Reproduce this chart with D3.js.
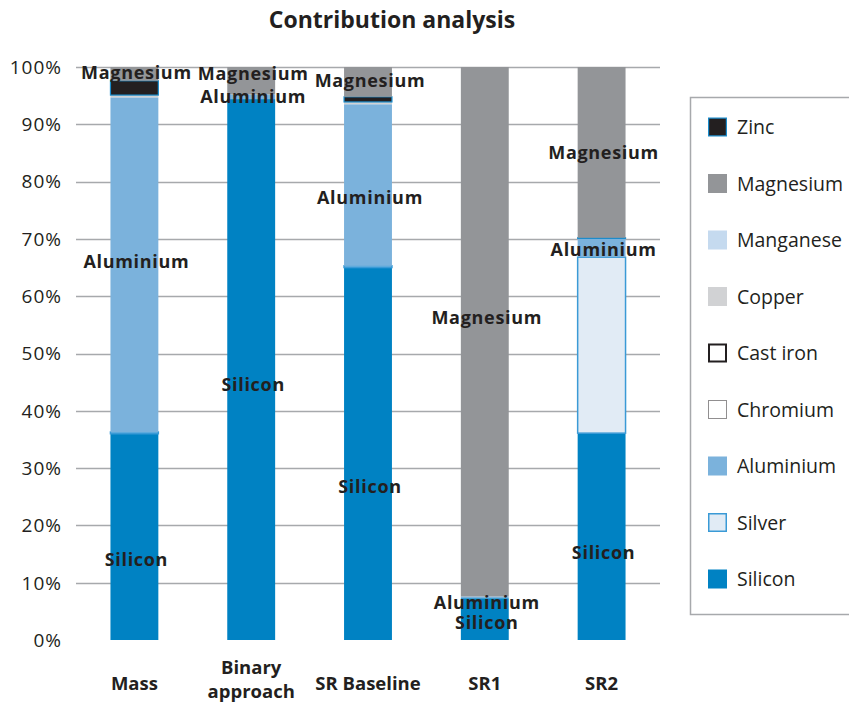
<!DOCTYPE html>
<html>
<head>
<meta charset="utf-8">
<script src="https://cdn.jsdelivr.net/npm/d3@7"></script>
<style>
  html, body { margin: 0; padding: 0; background: #fff; }
  svg { display: block; }
  text { font-family: "Open Sans", "Noto Sans", sans-serif; fill: #231f20; }
</style>
</head>
<body>
<svg id="chart" width="849" height="702"></svg>
<script>
// ---- Data ----
const categories = ["Mass", "Binary approach", "SR Baseline", "SR1", "SR2"];
const seriesNames = ["Silicon", "Silver", "Aluminium", "Chromium", "Cast iron", "Copper", "Manganese", "Zinc", "Magnesium"];
const silicon   = [36.0, 94.4, 65.0, 7.3, 36.1];
const silver    = [0.3, 0.0, 0.3, 0.0, 30.7];
const aluminium = [58.4, 0.8, 28.2, 0.3, 3.3];
const chromium  = [0, 0, 0, 0, 0];
const castIron  = [0, 0, 0, 0, 0];
const copper    = [0.4, 0.0, 0.4, 0.0, 0.0];
const manganese = [0, 0, 0, 0, 0];
const zinc      = [2.5, 0.0, 0.9, 0.0, 0.1];
const magnesium = [2.4, 4.8, 5.2, 92.4, 29.8];
const legendOrder = ["Zinc", "Magnesium", "Manganese", "Copper", "Cast iron", "Chromium", "Aluminium", "Silver", "Silicon"];
const yTicks = [0, 10, 20, 30, 40, 50, 60, 70, 80, 90, 100];
// data labels: category, text, position (percent)
const labelCats  = ["Mass","Mass","Mass","Binary approach","Binary approach","Binary approach","SR Baseline","SR Baseline","SR Baseline","SR1","SR1","SR1","SR2","SR2","SR2"];
const labelTexts = ["Magnesium","Aluminium","Silicon","Magnesium","Aluminium","Silicon","Magnesium","Aluminium","Silicon","Magnesium","Aluminium","Silicon","Magnesium","Aluminium","Silicon"];
const labelPos   = [99.1, 66.0, 14.0, 98.8, 94.8, 44.5, 97.6, 77.3, 26.7, 56.2, 6.6, 3.1, 85.0, 68.1, 15.2];

const seriesValues = {
  "Silicon": silicon, "Silver": silver, "Aluminium": aluminium, "Chromium": chromium,
  "Cast iron": castIron, "Copper": copper, "Manganese": manganese, "Zinc": zinc, "Magnesium": magnesium
};

// ---- Styles ----
const styles = {
  "Silicon":   { fill: "#0082c3", stroke: "none" },
  "Silver":    { fill: "#e1ebf5", stroke: "#3a9ad6", sw: 1.5 },
  "Aluminium": { fill: "#7bb2dc", stroke: "none" },
  "Chromium":  { fill: "#ffffff", stroke: "#231f20", sw: 1, dash: "1,1" },
  "Cast iron": { fill: "#ffffff", stroke: "#231f20", sw: 2 },
  "Copper":    { fill: "#d1d2d4", stroke: "none" },
  "Manganese": { fill: "#c5daef", stroke: "none" },
  "Zinc":      { fill: "#231f20", stroke: "#1a8ccc", sw: 1.2 },
  "Magnesium": { fill: "#939598", stroke: "none" }
};

const svg = d3.select("#chart");
const plotLeft = 76, plotRight = 660, plotTop = 67, plotBottom = 640;

const x = d3.scaleBand().domain(categories).range([plotLeft, plotRight]).paddingInner(0.59).paddingOuter(0.295);
const y = d3.scaleLinear().domain([0, 100]).range([plotBottom, plotTop]);

// Title
svg.append("text").attr("x", 392).attr("y", 28).attr("text-anchor", "middle")
  .style("font-size", "23px").style("font-weight", "700").text("Contribution analysis");

// Gridlines
svg.append("g").selectAll("line").data(yTicks.filter(d => d > 0)).join("line")
  .attr("x1", plotLeft).attr("x2", plotRight)
  .attr("y1", d => Math.round(y(d)) + 0.5).attr("y2", d => Math.round(y(d)) + 0.5)
  .attr("stroke", "#a7a9ac").attr("stroke-width", 1.3);

// Y axis labels
svg.append("g").selectAll("text").data(yTicks).join("text")
  .attr("x", 62).attr("y", d => y(d)).attr("dy", "0.36em").attr("text-anchor", "end")
  .style("font-size", "19px").style("letter-spacing", "1px").text(d => d + "%");

// Stack
const table = categories.map((c, i) => {
  const o = { cat: c };
  seriesNames.forEach(s => o[s] = seriesValues[s][i]);
  return o;
});
const stacked = d3.stack().keys(seriesNames)(table);

const gBars = svg.append("g");
stacked.forEach(layer => {
  const st = styles[layer.key];
  gBars.append("g").selectAll("rect").data(layer.filter(d => d[1] - d[0] > 0)).join("rect")
    .attr("x", d => x(d.data.cat))
    .attr("width", x.bandwidth())
    .attr("y", d => y(d[1]))
    .attr("height", d => Math.max(0.6, y(d[0]) - y(d[1])))
    .attr("fill", st.fill)
    .attr("stroke", st.stroke)
    .attr("stroke-width", st.sw || 0);
});

// Data labels
svg.append("g").selectAll("text").data(labelTexts.map((t, i) => ({ t, c: labelCats[i], v: labelPos[i] }))).join("text")
  .attr("x", d => x(d.c) + x.bandwidth() / 2 + 2)
  .attr("y", d => y(d.v)).attr("dy", "0.36em").attr("text-anchor", "middle")
  .style("font-size", "18px").style("font-weight", "700").style("letter-spacing", "0.7px")
  .text(d => d.t);

// Category labels
const gCat = svg.append("g");
categories.forEach(c => {
  const words = c === "Binary approach" ? ["Binary", "approach"] : [c];
  const t = gCat.append("text").attr("text-anchor", "middle")
    .style("font-size", "18.5px").style("font-weight", "700");
  if (words.length === 1) {
    t.append("tspan").attr("x", x(c) + x.bandwidth() / 2).attr("y", 690).text(words[0]);
  } else {
    words.forEach((w, i) => t.append("tspan").attr("x", x(c) + x.bandwidth() / 2).attr("y", 674 + i * 24).text(w));
  }
});

// Legend
const lg = svg.append("g");
lg.append("rect").attr("x", 690.5).attr("y", 97.5).attr("width", 200).attr("height", 517)
  .attr("fill", "#fff").attr("stroke", "#a7a9ac").attr("stroke-width", 1.5);
legendOrder.forEach((name, i) => {
  const cy = 127 + i * 56.5;
  const st = styles[name];
  const inset = st.sw ? st.sw / 2 : 0;
  lg.append("rect").attr("x", 708 + inset).attr("y", cy - 9.5 + inset)
    .attr("width", 19 - 2 * inset).attr("height", 19 - 2 * inset)
    .attr("fill", st.fill).attr("stroke", st.stroke).attr("stroke-width", st.sw || 0)
    .attr("stroke-dasharray", st.dash || null);
  lg.append("text").attr("x", 737).attr("y", cy).attr("dy", "0.36em")
    .style("font-size", "19.5px").text(name);
});
</script>
</body>
</html>
